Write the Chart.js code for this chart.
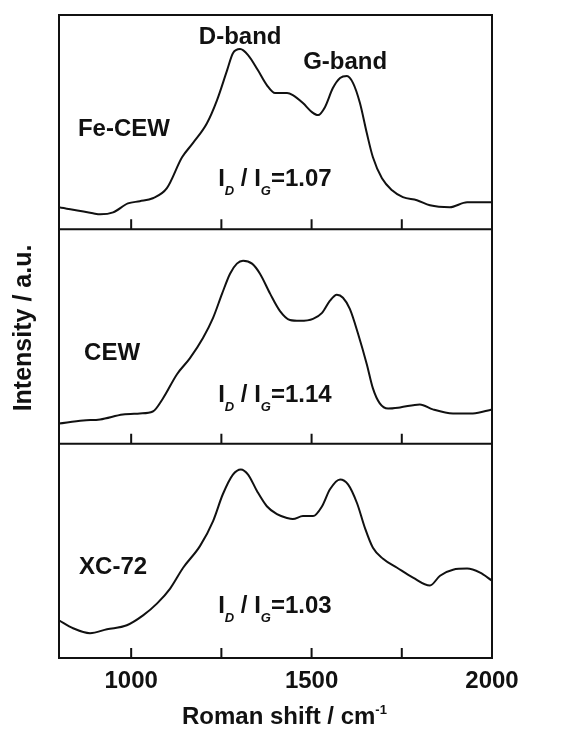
<!DOCTYPE html>
<html>
<head>
<meta charset="utf-8">
<script src="https://cdn.jsdelivr.net/npm/chart.js@4.4.1/dist/chart.umd.min.js"></script>
<style>
  html, body { margin: 0; padding: 0; background: #fff; }
  #wrap { position: relative; width: 568px; height: 731px; }
</style>
</head>
<body>
<div id="wrap"><canvas id="ramanChart" width="568" height="731"></canvas></div>
<script>
// Raman spectra (intensity in % of panel height)
const feCewShift = [800, 894, 914, 950, 991, 1024, 1060, 1099, 1141, 1171, 1210, 1238, 1266, 1282, 1302, 1324, 1351, 1376, 1399, 1432, 1448, 1476, 1501, 1518, 1537, 1559, 1579, 1598, 1615, 1634, 1653, 1670, 1695, 1723, 1753, 1792, 1828, 1883, 1931, 2000];
const feCewIntensity = [10.3, 7.5, 7.0, 7.9, 12.1, 13.1, 14.5, 19.2, 33.6, 40.2, 49.5, 60.3, 74.3, 82.2, 84.1, 81.3, 74.3, 67.3, 63.6, 63.6, 62.6, 58.9, 54.7, 53.3, 57.0, 65.9, 70.6, 71.5, 68.2, 58.9, 44.9, 33.6, 23.8, 18.2, 15.0, 13.6, 11.2, 10.3, 12.6, 12.6];

const cewShift = [800, 867, 914, 977, 1024, 1060, 1088, 1127, 1163, 1199, 1227, 1252, 1274, 1293, 1310, 1335, 1357, 1385, 1412, 1440, 1468, 1504, 1529, 1551, 1570, 1587, 1606, 1629, 1653, 1670, 1689, 1712, 1745, 1800, 1836, 1892, 1947, 2000];
const cewIntensity = [9.4, 10.8, 11.3, 13.6, 14.1, 15.0, 21.1, 32.4, 39.9, 49.3, 58.7, 70.0, 79.3, 84.0, 85.4, 84.0, 79.3, 70.0, 62.0, 57.7, 57.3, 58.2, 61.0, 66.7, 69.5, 68.1, 62.9, 51.2, 37.1, 25.8, 18.8, 16.4, 16.9, 18.3, 16.0, 14.1, 14.1, 16.0];

const xc72Shift = [800, 839, 886, 933, 988, 1033, 1072, 1108, 1144, 1191, 1227, 1254, 1282, 1304, 1324, 1349, 1376, 1404, 1432, 1448, 1476, 1504, 1529, 1551, 1579, 1601, 1626, 1648, 1670, 1698, 1737, 1781, 1828, 1856, 1892, 1931, 1967, 2000];
const xc72Intensity = [17.6, 13.9, 11.6, 13.4, 15.3, 19.9, 25.5, 32.4, 42.1, 52.3, 63.9, 76.4, 85.6, 88.0, 85.6, 77.8, 70.8, 67.1, 65.3, 64.8, 66.2, 66.2, 70.8, 78.7, 83.3, 81.0, 72.2, 60.6, 51.4, 46.3, 42.1, 37.5, 33.8, 38.4, 41.2, 41.7, 39.8, 36.1];

const sampleNames = ['Fe-CEW', 'CEW', 'XC-72'];
const ratioValues = ['1.07', '1.14', '1.03'];
const panelOffsets = [200, 100, 0];
const xTickLabels = [1000, 1500, 2000];
const minorTicks = [1000, 1250, 1500, 1750];

const FONT = '"Liberation Sans", Arial, Helvetica, sans-serif';
const INK = '#111';

const spectra = [
    [feCewShift, feCewIntensity],
    [cewShift, cewIntensity],
    [xc72Shift, xc72Intensity]
];

const datasets = spectra.map(([xs, ys], i) => ({
    label: sampleNames[i],
    data: xs.map((v, k) => ({ x: v, y: ys[k] + panelOffsets[i] })),
    borderColor: INK,
    borderWidth: 2,
    pointRadius: 0,
    fill: false,
    cubicInterpolationMode: 'monotone'
}));

// label spots in data coords (x = shift, y = cap middle)
const nameSpots = [[980, 247.7], [947, 143.2], [950, 43.1]];
const ratioSpots = [[1241, 224.3], [1241, 123.6], [1241, 25.2]];

// draws runs of [text, font, dy] one after the other
function drawRuns(ctx, left, base, parts) {
    let xx = left;
    parts.forEach(([t, f, dy]) => {
        ctx.font = f;
        ctx.fillText(t, xx, base + dy);
        xx += ctx.measureText(t).width;
    });
}

function drawRatio(ctx, left, capMid, value) {
    drawRuns(ctx, left, capMid + 0.36 * 24, [
        ['I', 'bold 24px ' + FONT, 0],
        ['D', 'italic bold 13px ' + FONT, 9],
        [' / I', 'bold 24px ' + FONT, 0],
        ['G', 'italic bold 13px ' + FONT, 9],
        ['=' + value, 'bold 24px ' + FONT, 0]
    ]);
}

const framePlugin = {
    id: 'framePlugin',
    afterDatasetsDraw(chart) {
        const { ctx, chartArea: a, scales: { x, y } } = chart;
        ctx.save();
        ctx.strokeStyle = INK;
        ctx.lineWidth = 2;
        ctx.strokeRect(a.left, a.top, a.right - a.left, a.bottom - a.top);

        // panel separators + inward ticks
        panelOffsets.forEach(off => {
            const yb = y.getPixelForValue(off);
            ctx.beginPath();
            ctx.moveTo(a.left, yb);
            ctx.lineTo(a.right, yb);
            minorTicks.forEach(v => {
                const px = x.getPixelForValue(v);
                ctx.moveTo(px, yb);
                ctx.lineTo(px, yb - 10);
            });
            ctx.stroke();
        });

        ctx.fillStyle = INK;
        ctx.textBaseline = 'alphabetic';
        ctx.font = 'bold 24px ' + FONT;
        ctx.textAlign = 'center';
        nameSpots.forEach(([sx, sy], i) => {
            ctx.fillText(sampleNames[i], x.getPixelForValue(sx), y.getPixelForValue(sy) + 0.36 * 24);
        });
        ctx.fillText('D-band', x.getPixelForValue(1302), y.getPixelForValue(290.4) + 0.36 * 24);
        ctx.fillText('G-band', x.getPixelForValue(1593), y.getPixelForValue(279) + 0.36 * 24);

        ctx.textAlign = 'left';
        ratioSpots.forEach(([sx, sy], i) => {
            drawRatio(ctx, x.getPixelForValue(sx), y.getPixelForValue(sy), ratioValues[i]);
        });

        // x axis title with superscript
        drawRuns(ctx, a.left + 123, a.bottom + 66, [
            ['Roman shift / cm', 'bold 24px ' + FONT, 0],
            ['-1', 'bold 13px ' + FONT, -10]
        ]);

        // y axis title
        ctx.translate(31, 328);
        ctx.rotate(-Math.PI / 2);
        ctx.textAlign = 'center';
        ctx.font = 'bold 25px ' + FONT;
        ctx.fillText('Intensity / a.u.', 0, 0);
        ctx.restore();
    }
};

new Chart(document.getElementById('ramanChart'), {
    type: 'line',
    data: { datasets },
    options: {
        responsive: false,
        animation: false,
        devicePixelRatio: 1,
        layout: { padding: { left: 59, right: 76, top: 15, bottom: 0 } },
        plugins: { legend: { display: false }, tooltip: { enabled: false } },
        scales: {
            x: {
                type: 'linear',
                min: 800,
                max: 2000,
                grid: { display: false },
                border: { display: false },
                afterBuildTicks: s => { s.ticks = xTickLabels.map(v => ({ value: v })); },
                ticks: {
                    autoSkip: false,
                    maxRotation: 0,
                    padding: 1,
                    color: INK,
                    font: { family: FONT, size: 24, weight: 'bold' },
                    callback: v => String(v)
                },
                title: { display: false },
                afterFit: s => { s.height = 73; }
            },
            y: { display: false, min: 0, max: 300 }
        }
    },
    plugins: [framePlugin]
});
</script>
</body>
</html>
